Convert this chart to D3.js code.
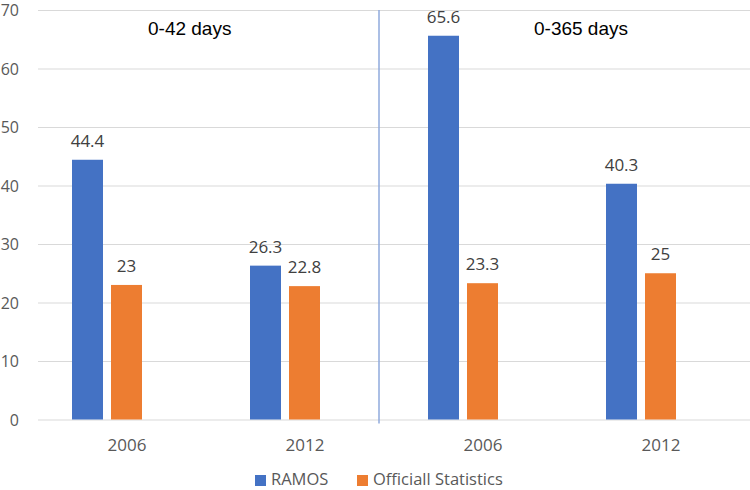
<!DOCTYPE html>
<html><head><meta charset="utf-8">
<script src="https://cdn.jsdelivr.net/npm/d3@7"></script>
<style>html,body{margin:0;padding:0;background:#fff;}svg{display:block;}</style>
</head><body>
<svg id="chart" width="750" height="490"></svg>
<script>
const categories = ["2006", "2012", "2006", "2012"];
const seriesNames = ["RAMOS", "Officiall Statistics"];
const ramos = [44.4, 26.3, 65.6, 40.3];
const official = [23, 22.8, 23.3, 25];
const yTicks = [0, 10, 20, 30, 40, 50, 60, 70];
const periodLabels = ["0-42 days", "0-365 days"];

(function () {
const colors = ["#4472C4", "#ED7D31"];
const plotL = 38, plotR = 750, plotT = 10, plotB = 419.5;
const svg = d3.select("#chart");
const font = "'Open Sans', 'Noto Sans', sans-serif";

const y = d3.scaleLinear().domain([0, 70]).range([plotB, plotT]);
const x0 = d3.scaleBand().domain(d3.range(categories.length)).range([plotL, plotL + 178 * 4]).padding(0);
// three slots per group (third slot empty, as in the original)
const x1 = d3.scaleBand().domain([0, 1, 2]).range([34, 143]).paddingInner(8 / 39).paddingOuter(0);

// gridlines
const yAxis = d3.axisLeft(y).tickValues(yTicks).tickSize(-(plotR - plotL)).tickFormat(d => d);
const gA = svg.append("g").attr("transform", `translate(${plotL},0)`).call(yAxis);
gA.select(".domain").remove();
gA.selectAll(".tick line").attr("stroke", "#d9d9d9").attr("stroke-width", 1);
gA.selectAll(".tick text").attr("x", -19).attr("text-anchor", "end").attr("dy", "0.35em")
  .attr("fill", "#595959").style("font-family", font).style("font-size", "16px");

// divider line
svg.append("line")
  .attr("x1", x0(2) - 15).attr("x2", x0(2) - 15)
  .attr("y1", y(70)).attr("y2", plotB + 4)
  .attr("stroke", "#8FAADC").attr("stroke-width", 1.5);

// bars
const seriesData = [ramos, official];
seriesData.forEach((vals, si) => {
  const g = svg.append("g");
  g.selectAll("rect").data(vals).enter().append("rect")
    .attr("x", (d, i) => x0(i) + x1(si))
    .attr("y", d => y(d))
    .attr("width", x1.bandwidth())
    .attr("height", d => y(0) - y(d))
    .attr("fill", colors[si]);
  g.selectAll("text").data(vals).enter().append("text")
    .attr("x", (d, i) => x0(i) + x1(si) + x1.bandwidth() / 2)
    .attr("y", d => y(d) - 13)
    .attr("text-anchor", "middle")
    .attr("fill", "#404040")
    .style("font-family", font).style("font-size", "17px")
    .text(d => d);
});

// x labels
svg.append("g").selectAll("text").data(categories).enter().append("text")
  .attr("x", (d, i) => x0(i) + x0.bandwidth() / 2)
  .attr("y", 451)
  .attr("text-anchor", "middle")
  .attr("fill", "#595959")
  .style("font-family", font).style("font-size", "17px")
  .text(d => d);

// period annotations
const annX = [148, 534];
svg.append("g").selectAll("text").data(periodLabels).enter().append("text")
  .attr("x", (d, i) => annX[i]).attr("y", 35)
  .attr("fill", "#000")
  .style("font-family", "'Liberation Sans', Arial, sans-serif").style("font-size", "19px")
  .text(d => d);

// legend
const legX = [255, 357];
const lg = svg.append("g");
seriesNames.forEach((n, i) => {
  lg.append("rect").attr("x", legX[i]).attr("y", 475).attr("width", 11).attr("height", 11).attr("fill", colors[i]);
  lg.append("text").attr("x", legX[i] + 16).attr("y", 485)
    .attr("fill", "#595959").style("font-family", font).style("font-size", "16.5px").text(n);
});
})();
</script>
</body></html>
